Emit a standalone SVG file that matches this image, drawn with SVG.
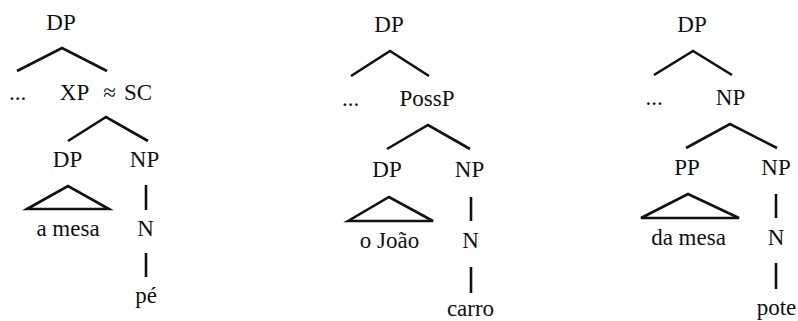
<svg xmlns="http://www.w3.org/2000/svg" width="798" height="321" viewBox="0 0 798 321">
<style>
text{font-family:"Times New Roman","Liberation Serif",Times,"DejaVu Serif",serif;font-size:23px;fill:#111;text-anchor:middle}
.l{stroke:#111;stroke-width:2.6;fill:none;stroke-linecap:butt;stroke-linejoin:miter}
</style>
<rect width="798" height="321" fill="#fff"/>
<g id="connectors">
<polyline class="l" points="17,71 62,48 107,71"/>
<polyline class="l" points="68,141 106,117 148,141"/>
<polygon class="l" points="27,209 68,186 109,209"/>
<line class="l" x1="146" y1="185" x2="146" y2="210"/>
<line class="l" x1="146" y1="253" x2="146" y2="277"/>
<polyline class="l" points="351,76 390,51 429,76"/>
<polyline class="l" points="387,149 428,125 470,149"/>
<polygon class="l" points="348,221 389,197 433,221"/>
<line class="l" x1="471" y1="197" x2="471" y2="221"/>
<line class="l" x1="471" y1="267" x2="471" y2="293"/>
<polyline class="l" points="654,75 693,51 732,75"/>
<polyline class="l" points="686,148 730,124 777,148"/>
<polygon class="l" points="641,218 688,194 739,218"/>
<line class="l" x1="776" y1="194" x2="776" y2="218"/>
<line class="l" x1="776" y1="263" x2="776" y2="289"/>
</g>
<g id="t1-dp"><text x="61" y="30">DP</text></g>
<g id="t1-dots"><text x="17.5" y="100">...</text></g>
<g id="t1-xp"><text x="74.5" y="100">XP</text><text x="109.5" y="100">≈</text><text x="138" y="100">SC</text></g>
<g id="t1-dp2"><text x="67.5" y="167">DP</text></g>
<g id="t1-np"><text x="144.5" y="167">NP</text></g>
<g id="t1-amesa"><text x="68" y="236">a mesa</text></g>
<g id="t1-n"><text x="145.5" y="236">N</text></g>
<g id="t1-pe"><text x="146" y="303">pé</text></g>
<g id="t2-dp"><text x="389" y="32">DP</text></g>
<g id="t2-dots"><text x="350.5" y="106">...</text></g>
<g id="t2-possp"><text x="427" y="106">PossP</text></g>
<g id="t2-dp2"><text x="387" y="177">DP</text></g>
<g id="t2-np"><text x="469.5" y="177">NP</text></g>
<g id="t2-joao"><text x="389.5" y="248">o João</text></g>
<g id="t2-n"><text x="470.5" y="248">N</text></g>
<g id="t2-carro"><text x="470.5" y="316">carro</text></g>
<g id="t3-dp"><text x="692" y="32">DP</text></g>
<g id="t3-dots"><text x="654" y="105">...</text></g>
<g id="t3-np"><text x="730.5" y="105">NP</text></g>
<g id="t3-pp"><text x="687" y="175">PP</text></g>
<g id="t3-np2"><text x="776" y="175">NP</text></g>
<g id="t3-damesa"><text x="688.5" y="245">da mesa</text></g>
<g id="t3-n"><text x="776" y="245">N</text></g>
<g id="t3-pote"><text x="776.5" y="315">pote</text></g>
</svg>
